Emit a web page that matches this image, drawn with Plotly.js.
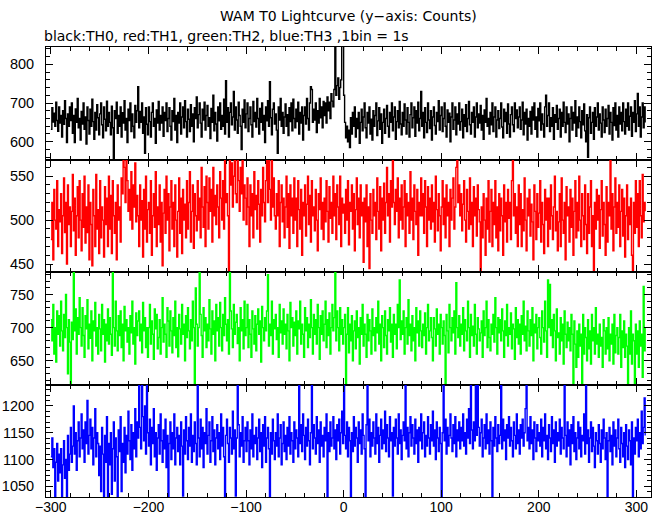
<!DOCTYPE html>
<html>
<head>
<meta charset="utf-8">
<script src="https://cdn.plot.ly/plotly-3.0.1.min.js"></script>
<style>html,body{margin:0;padding:0;background:#fff;}#chart{width:661px;height:515px;}</style>
</head>
<body>
<div id="chart"></div>
<script>
// Bin start time (s) and bin size (1bin = 1s)
const binStart = -300;
const binSize = 1;

const titleText = "WAM T0 Lightcurve (y\u2212axis: Counts)";
const subtitleText = "black:TH0, red:TH1, green:TH2, blue:TH3 ,1bin = 1s";
const seriesNames = ["TH0", "TH1", "TH2", "TH3"];
const seriesColors = ["#000000", "#ff0000", "#00ff00", "#0000ff"];

// TH0 (black) counts per 1 s bin
const th0 = [
632,688,651,674,640,702,655,627,690,648,
668,612,680,645,706,660,598,672,640,690,
655,700,622,668,598,685,650,712,636,660,
604,678,646,700,632,664,594,690,655,620,
684,640,710,652,606,676,630,696,662,618,
672,700,644,610,690,658,628,705,640,676,
650,618,692,636,556,680,660,702,622,668,
640,690,612,675,648,706,630,660,598,684,
655,700,626,672,640,610,694,650,680,742,
636,678,650,700,622,664,570,688,645,618,
690,652,612,676,700,640,660,596,682,648,
704,630,668,648,690,614,676,655,700,626,
660,688,640,604,680,652,712,630,668,598,
676,648,700,620,664,690,636,706,652,612,
684,658,626,696,640,672,600,688,660,716,
636,670,700,648,612,684,656,702,630,668,
694,640,662,608,686,650,720,628,676,646,
602,690,654,700,632,668,640,710,620,758,
650,688,612,676,700,644,664,730,630,690,
656,622,702,668,640,580,684,650,708,636,
672,700,626,660,690,644,612,704,652,676,
638,712,660,620,686,650,700,630,668,598,
690,654,706,640,755,662,618,684,700,646,
672,630,570,690,656,712,640,676,622,664,
698,640,670,616,688,652,700,628,710,660,
636,684,652,702,620,676,648,690,604,668,
690,646,712,660,630,700,742,735,650,684,
656,700,624,680,648,712,662,690,636,704,
668,700,648,716,680,702,660,724,705,690,
735,870,720,745,765,710,740,760,900,890,
720,650,610,640,600,630,585,662,620,676,
640,690,612,660,634,676,596,650,684,628,
664,700,636,610,676,648,690,620,658,604,
680,640,668,700,616,654,688,632,672,596,
650,684,622,660,694,640,612,676,650,700,
628,664,690,606,652,680,636,704,646,618,
676,640,698,656,620,688,650,612,670,700,
636,662,690,614,680,648,702,628,660,730,
640,676,610,688,650,624,700,656,634,680,
604,664,690,642,620,676,652,706,630,668,
690,626,660,700,640,612,682,650,674,600,
664,700,632,656,690,618,672,646,700,630,
652,684,610,670,640,696,626,660,704,644,
620,676,650,690,612,664,700,636,672,648,
694,630,668,606,682,650,712,640,660,620,
676,644,700,626,664,690,612,656,680,634,
660,700,638,610,684,652,676,622,698,646,
612,670,690,644,626,700,660,682,636,664,
690,632,656,702,618,676,646,684,604,660,
640,678,620,690,656,700,632,664,612,686,
654,700,630,672,646,612,690,720,640,668,
700,626,662,640,688,606,670,650,694,632,
660,684,612,676,640,702,650,624,690,646,
672,600,660,690,630,676,648,706,614,664,
636,690,652,610,680,644,698,628,600,670,
560,662,690,622,650,676,606,688,640,664,
700,630,672,648,612,690,656,624,684,640,
660,694,620,676,650,604,688,642,700,630,
668,612,690,646,676,628,700,652,620,684,
640,700,630,666,690,614,676,650,706,626,
672,725,640,690,612,664,700,636,690,650
];

// TH1 (red)
const th1 = [
478,520,455,535,500,490,545,470,512,498,
530,462,505,548,486,520,450,540,495,515,
470,510,552,488,525,460,505,538,480,545,
500,465,530,492,550,474,515,486,540,455,
520,495,448,535,505,470,552,490,512,462,
545,480,515,500,458,538,495,525,470,550,
490,528,462,545,505,485,520,455,540,500,
515,475,548,530,582,560,520,575,545,510,
535,500,555,490,540,515,565,498,528,505,
470,540,500,522,458,535,490,550,475,512,
520,485,545,460,505,530,492,555,470,515,
495,540,475,520,448,508,535,485,550,500,
530,465,515,545,490,520,470,540,500,458,
510,548,485,525,462,535,500,518,480,545,
490,520,555,475,510,540,468,530,505,488,
545,500,525,480,560,515,492,538,470,550,
520,490,548,510,535,475,560,505,528,495,
540,515,480,555,525,500,545,490,570,520,
530,505,436,580,540,565,515,550,575,530,
520,585,545,510,560,530,575,500,540,525,
495,548,515,470,540,505,530,480,555,512,
528,490,545,518,475,535,505,560,520,498,
545,578,520,572,535,500,582,515,548,505,
490,530,505,545,470,520,540,498,525,480,
515,550,492,530,468,540,505,525,485,548,
500,525,470,545,512,490,535,460,520,505,
540,482,518,550,495,528,475,545,505,515,
488,535,500,465,530,512,548,490,520,478,
525,498,545,510,475,538,502,520,485,550,
505,530,478,540,515,495,550,470,525,508,
518,485,535,500,545,472,520,510,540,490,
530,465,512,548,495,525,480,540,505,520,
452,525,498,540,470,515,445,530,500,485,
535,505,520,478,548,510,490,538,465,525,
500,542,485,520,560,505,530,475,545,515,
580,520,495,535,510,548,480,525,500,540,
490,515,545,470,530,505,520,485,555,500,
525,478,540,510,495,535,460,520,505,548,
505,530,485,545,515,470,538,500,525,490,
540,498,520,475,550,512,488,530,505,465,
515,545,495,525,480,540,505,520,470,535,
500,525,548,490,515,560,578,520,540,505,
530,488,518,545,500,475,535,510,490,548,
495,520,470,538,505,525,482,540,512,498,
436,515,480,530,500,460,525,490,545,475,
510,535,470,520,495,545,480,515,465,530,
488,525,505,460,540,498,520,475,535,502,
520,478,545,575,505,530,485,515,470,540,
495,530,470,512,488,548,500,465,525,505,
535,482,518,498,455,540,510,478,530,492,
508,545,475,520,495,462,535,500,525,470,
525,490,540,505,478,515,550,488,510,465,
498,530,470,548,500,485,520,455,538,505,
515,475,535,492,525,460,510,545,480,520,
488,550,500,470,530,505,478,540,495,462,
530,485,515,545,470,505,438,520,490,535,
500,528,468,512,545,482,520,495,460,538,
475,520,505,578,490,530,465,515,548,485,
520,492,540,470,510,535,482,525,458,505,
540,478,515,495,525,460,437,520,485,545,
492,530,470,545,505,480,552,498,520,510
];

// TH2 (green)
const th2 = [
712,680,735,660,700,648,725,690,718,672,
740,695,665,720,685,750,700,630,712,678,
610,708,682,790,695,728,660,715,690,745,
700,672,730,688,655,718,698,742,668,705,
684,725,650,710,695,738,672,700,660,720,
698,665,735,690,712,648,705,680,728,675,
715,690,658,788,700,672,740,695,665,718,
688,725,670,705,650,732,695,712,678,700,
660,718,692,740,675,700,645,722,688,710,
725,680,705,662,738,695,715,670,700,655,
700,735,675,710,690,652,728,698,720,668,
685,712,660,700,745,678,705,690,655,730,
710,672,725,695,662,715,688,740,670,700,
656,720,698,675,735,690,705,650,718,685,
730,695,668,712,680,740,700,610,760,705,
672,700,790,720,688,655,730,695,715,670,
705,680,742,698,660,725,690,710,650,735,
695,715,672,738,700,665,720,688,745,705,
680,712,660,788,725,698,670,735,690,708,
720,676,700,650,730,695,712,668,740,688,
700,735,670,712,690,655,725,698,675,718,
665,705,728,690,710,648,732,700,680,715,
695,725,780,672,705,688,740,660,712,698,
720,682,700,655,735,692,710,675,728,690,
705,668,720,695,650,738,700,715,672,708,
688,725,660,710,698,740,675,705,690,655,
730,695,715,670,705,685,742,700,660,720,
690,712,675,735,700,652,718,690,725,680,
705,740,670,712,688,722,660,700,735,695,
715,788,680,725,700,665,730,690,712,675,
700,720,612,690,730,662,705,680,718,650,
695,710,668,725,685,700,645,715,690,735,
672,705,690,655,720,680,712,695,660,728,
688,700,665,715,692,740,675,705,650,718,
700,670,725,688,660,712,695,730,678,705,
655,720,690,705,668,735,700,772,682,710,
690,725,660,700,715,675,742,688,705,665,
718,680,700,650,730,692,710,672,725,695,
670,705,688,722,660,700,735,680,695,715,
685,650,715,698,672,728,690,705,660,720,
700,675,710,688,612,720,695,662,735,700,
680,715,692,725,660,768,700,685,718,672,
705,690,730,665,712,695,680,740,700,655,
720,688,702,672,735,690,660,715,698,680,
692,710,655,725,688,700,740,670,712,685,
665,705,690,720,678,745,700,660,715,692,
712,680,728,695,655,710,688,735,672,700,
690,722,668,705,698,652,730,685,712,675,
705,660,718,690,740,680,702,665,725,695,
672,712,688,730,650,705,692,720,668,700,
715,685,660,725,700,678,740,695,655,772,
700,765,688,712,670,720,695,650,728,685,
692,660,715,680,705,645,725,690,670,708,
680,700,665,720,690,612,710,675,640,695,
655,705,672,690,615,720,660,700,685,650,
712,668,695,645,720,680,700,660,730,675,
690,655,705,672,685,640,712,695,660,700,
668,715,650,690,675,705,645,720,662,688,
700,660,685,720,640,695,670,710,655,690,
672,612,700,660,725,645,690,680,615,705,
660,695,640,710,672,690,625,762,665,700
];

// TH3 (blue)
const th3 = [
1105,1140,1085,1120,1030,1095,1130,1060,1110,1075,
1120,1025,1090,1135,1065,1100,1028,1145,1080,1110,
1160,1095,1125,1200,1110,1150,1080,1135,1170,1105,
1140,1185,1120,1155,1095,1170,1130,1210,1110,1145,
1175,1120,1160,1090,1140,1195,1105,1150,1130,1070,
1125,1040,1160,1110,1030,1145,1095,1180,1025,1130,
1090,1150,1035,1120,1170,1060,1140,1105,1028,1155,
1115,1180,1040,1130,1095,1160,1075,1145,1110,1190,
1135,1100,1165,1080,1150,1120,1195,1105,1170,1140,
1250,1160,1120,1245,1180,1135,1200,1110,1255,1150,
1125,1175,1090,1160,1130,1195,1105,1150,1080,1140,
1165,1110,1185,1135,1095,1155,1120,1175,1085,1145,
1030,1130,1170,1100,1150,1120,1185,1090,1140,1160,
1115,1145,1090,1170,1125,1032,1155,1110,1180,1135,
1100,1160,1125,1185,1095,1145,1115,1170,1130,1090,
1250,1140,1105,1175,1120,1160,1085,1150,1130,1195,
1110,1145,1170,1095,1135,1180,1115,1155,1090,1140,
1165,1120,1150,1100,1185,1125,1160,1105,1028,1145,
1175,1130,1095,1160,1140,1110,1190,1120,1155,1032,
1140,1245,1165,1105,1150,1125,1180,1095,1135,1160,
1115,1170,1135,1090,1155,1120,1185,1105,1145,1130,
1160,1100,1140,1175,1115,1150,1085,1165,1125,1180,
1095,1140,1160,1120,1030,1150,1110,1175,1135,1100,
1150,1125,1185,1105,1140,1165,1090,1130,1170,1115,
1145,1100,1160,1125,1180,1110,1150,1135,1095,1170,
1120,1155,1140,1105,1250,1130,1165,1115,1185,1145,
1100,1160,1125,1175,1135,1090,1150,1245,1120,1165,
1140,1110,1180,1130,1155,1095,1170,1125,1145,1105,
1160,1135,1185,1030,1150,1115,1170,1125,1140,1180,
1120,1155,1100,1165,1135,1175,1110,1150,1190,1130,
1248,1145,1120,1170,1105,1160,1135,1028,1150,1115,
1180,1125,1160,1140,1095,1170,1130,1155,1110,1185,
1145,1120,1030,1165,1250,1135,1175,1105,1150,1125,
1170,1140,1110,1185,1130,1160,1095,1145,1175,1120,
1155,1130,1190,1115,1165,1140,1105,1180,1135,1150,
1032,1160,1125,1175,1140,1110,1185,1130,1155,1100,
1145,1170,1135,1248,1120,1160,1105,1150,1180,1125,
1165,1140,1110,1175,1130,1155,1095,1160,1135,1185,
1120,1150,1170,1105,1145,1125,1180,1140,1110,1165,
1135,1190,1125,1155,1100,1170,1140,1115,1160,1130,
1028,1150,1250,1135,1175,1110,1160,1125,1145,1185,
1140,1115,1165,1130,1180,1105,1155,1135,1170,1120,
1160,1135,1185,1125,1150,1110,1175,1140,1195,1130,
1245,1155,1120,1170,1135,1250,1145,1252,1160,1125,
1150,1175,1105,1140,1165,1120,1185,1130,1155,1110,
1170,1135,1030,1160,1125,1180,1140,1115,1165,1130,
1145,1248,1120,1175,1135,1155,1100,1165,1140,1180,
1125,1160,1135,1105,1170,1145,1120,1185,1130,1155,
1110,1165,1140,1175,1125,1150,1195,1250,1135,1160,
1120,1180,1130,1155,1100,1170,1140,1115,1165,1135,
1150,1125,1175,1105,1160,1135,1185,1120,1145,1100,
1165,1140,1115,1180,1130,1155,1095,1170,1125,1150,
1135,1175,1110,1160,1140,1120,1245,1145,1105,1170,
1125,1155,1090,1165,1130,1180,1115,1150,1100,1140,
1170,1120,1160,1105,1145,1135,1185,1110,1250,1130,
1155,1095,1140,1170,1115,1160,1125,1085,1150,1135,
1110,1165,1130,1095,1155,1120,1175,1140,1100,1150,
1030,1135,1160,1115,1145,1090,1170,1125,1155,1105,
1140,1175,1120,1095,1160,1130,1105,1150,1085,1165,
1125,1100,1155,1135,1090,1170,1028,1140,1110,1160,
1135,1175,1105,1150,1120,1190,1130,1160,1215,1145
];

// Axis settings per panel (top to bottom)
const yRanges = [[554, 845], [441, 569], [614, 784], [1030, 1240]];
const yMajor = [100, 50, 50, 50];
const yMinor = [20, 10, 10, 10];
const xRange = [-305, 315];
const xMajor = 100;
const xMinor = 20;

const series = [th0, th1, th2, th3];
const times = th0.map((_, i) => binStart + i * binSize);

const fontFam = "Liberation Sans, Arial, Helvetica, sans-serif";
const titleFam = "DejaVu Sans, Liberation Sans, sans-serif";
const traces = series.map((vals, k) => ({
  type: "scatter",
  mode: "lines",
  name: seriesNames[k],
  x: times,
  y: vals,
  xaxis: k === 0 ? "x" : "x" + (k + 1),
  yaxis: k === 0 ? "y" : "y" + (k + 1),
  line: { color: seriesColors[k], width: 1.4, shape: "hv" },
  hoverinfo: "x+y"
}));

const layout = {
  width: 661,
  height: 515,
  margin: { l: 46, r: 10, t: 47, b: 18, pad: 0 },
  paper_bgcolor: "#ffffff",
  plot_bgcolor: "#ffffff",
  showlegend: false,
  font: { family: fontFam, color: "#000000", size: 14 },
  annotations: [
    { text: titleText, xref: "paper", yref: "paper", x: 0.5, y: 1, yshift: 21,
      xanchor: "center", yanchor: "bottom", showarrow: false,
      font: { family: titleFam, size: 14, color: "#000" } },
    { text: subtitleText, xref: "paper", yref: "paper", x: 0, xshift: -4, y: 1, yshift: 1,
      xanchor: "left", yanchor: "bottom", showarrow: false,
      font: { family: titleFam, size: 14, color: "#000" } }
  ]
};

const domains = [[0.75, 1], [0.5, 0.75], [0.25, 0.5], [0, 0.25]];
for (let k = 0; k < 4; k++) {
  const sfx = k === 0 ? "" : String(k + 1);
  layout["xaxis" + sfx] = {
    range: xRange,
    anchor: "y" + sfx,
    matches: k === 0 ? undefined : "x",
    showline: true, linecolor: "#000", linewidth: 1, mirror: "allticks",
    ticks: "inside", ticklen: 7, tickwidth: 1, tickcolor: "#000",
    dtick: xMajor, tick0: 0,
    minor: { ticks: "inside", ticklen: 4, dtick: xMinor, tickcolor: "#000", tickwidth: 1, showgrid: false },
    showgrid: false, zeroline: false,
    showticklabels: k === 3,
    tickfont: { family: fontFam, size: 14, color: "#000" },
    ticklabelstandoff: -3,
    fixedrange: true
  };
  layout["yaxis" + sfx] = {
    domain: domains[k],
    range: yRanges[k],
    anchor: "x" + sfx,
    showline: true, linecolor: "#000", linewidth: 1, mirror: "allticks",
    ticks: "inside", ticklen: 7, tickwidth: 1, tickcolor: "#000",
    dtick: yMajor[k], tick0: 0,
    minor: { ticks: "inside", ticklen: 4, dtick: yMinor[k], tickcolor: "#000", tickwidth: 1, showgrid: false },
    showgrid: false, zeroline: false,
    tickfont: { family: fontFam, size: 14.5, color: "#000" },
    ticklabelstandoff: 8,
    fixedrange: true
  };
}

Plotly.newPlot("chart", traces, layout, { displayModeBar: false, staticPlot: true });
</script>
</body>
</html>
